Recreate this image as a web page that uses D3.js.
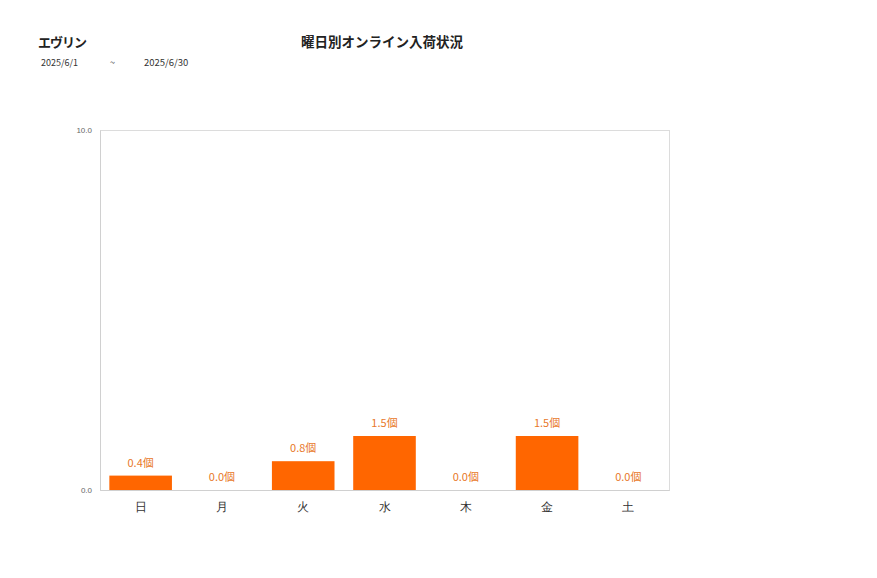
<!DOCTYPE html>
<html>
<head>
<meta charset="utf-8">
<script src="https://cdn.jsdelivr.net/npm/d3@7"></script>
<style>
  body { margin: 0; background: #fff; font-family: 'Noto Sans CJK JP', 'Noto Sans', sans-serif; }
</style>
</head>
<body>
<div id="graph"></div>
<script>
// The data...
var days       = [ '日', '月', '火', '水', '木', '金', '土' ];
var values     = [ 0.4, 0.0, 0.8, 1.5, 0.0, 1.5, 0.0 ];
var yTicks     = [ 0, 10 ];
var shopName   = 'エヴリン';
var chartTitle = '曜日別オンライン入荷状況';
var dateFrom   = '2025/6/1';
var dateTo     = '2025/6/30';
var unit       = '個';

var W = 877, H = 578;

var margin = { top: 130, left: 100, right: 208, bottom: 88 };
var width  = W - margin.left - margin.right;
var height = H - margin.top - margin.bottom;

var svg = d3.select ('#graph').append ('svg')
            .attr ('width', W)
            .attr ('height', H);

// Header texts
svg.append ('text')
   .attr ('x', 38).attr ('y', 47)
   .attr ('font-size', '13px').attr ('font-weight', 'bold')
   .attr ('letter-spacing', '-1px')
   .attr ('fill', '#222')
   .text (shopName);

svg.append ('text')
   .attr ('x', 382).attr ('y', 47)
   .attr ('text-anchor', 'middle')
   .attr ('font-size', '13.5px').attr ('font-weight', 'bold')
   .attr ('fill', '#222')
   .text (chartTitle);

svg.append ('text')
   .attr ('x', 41).attr ('y', 66)
   .attr ('font-size', '9px').attr ('fill', '#333')
   .text (dateFrom);

svg.append ('text')
   .attr ('x', 110).attr ('y', 66)
   .attr ('font-size', '9px').attr ('fill', '#333')
   .text ('~');

svg.append ('text')
   .attr ('x', 144).attr ('y', 66)
   .attr ('font-size', '9.5px').attr ('fill', '#333')
   .text (dateTo);

var g = svg.append ('g')
           .attr ('transform', 'translate(' + margin.left + ',' + margin.top + ')');

var xScale = d3.scaleBand ()
               .domain (days)
               .range ([ 0, width ])
               .paddingInner (0.23)
               .paddingOuter (0.115);

var yScale = d3.scaleLinear ()
               .domain ([ 0, 10 ])
               .range ([ height, 0 ]);

// frame
g.append ('rect')
 .attr ('x', 0.5).attr ('y', 0.5)
 .attr ('width', width).attr ('height', height)
 .attr ('fill', 'none')
 .attr ('stroke', '#dcdcdc');

// y axis
var yAxis = d3.axisLeft (yScale)
              .tickValues (yTicks)
              .tickSize (0)
              .tickPadding (8)
              .tickFormat (d3.format ('.1f'));

var yG = g.append ('g').call (yAxis);
yG.select ('.domain').attr ('stroke', '#d0d0d0');
yG.selectAll ('text').attr ('font-size', '8px').attr ('fill', '#666');

// x axis
var xAxis = d3.axisBottom (xScale)
              .tickSize (0)
              .tickPadding (12);

var xG = g.append ('g')
          .attr ('transform', 'translate(0,' + height + ')')
          .call (xAxis);
xG.select ('.domain').attr ('stroke', '#d0d0d0');
xG.selectAll ('text').attr ('font-size', '12px').attr ('fill', '#333');

// bars
g.selectAll ('rect.bar')
 .data (values)
 .enter ()
 .append ('rect')
 .attr ('class', 'bar')
 .attr ('x',      function (d, i) { return xScale (days[i]); })
 .attr ('y',      function (d)    { return yScale (d); })
 .attr ('width',  xScale.bandwidth ())
 .attr ('height', function (d)    { return yScale (0) - yScale (d); })
 .attr ('fill', '#ff6600');

// labels
g.selectAll ('text.lbl')
 .data (values)
 .enter ()
 .append ('text')
 .attr ('class', 'lbl')
 .attr ('x', function (d, i) { return xScale (days[i]) + xScale.bandwidth () / 2; })
 .attr ('y', function (d)    { return yScale (d) - 9; })
 .attr ('text-anchor', 'middle')
 .attr ('font-size', '11px')
 .attr ('fill', '#e8782a')
 .text (function (d) { return d.toFixed (1) + unit; });
</script>
</body>
</html>
